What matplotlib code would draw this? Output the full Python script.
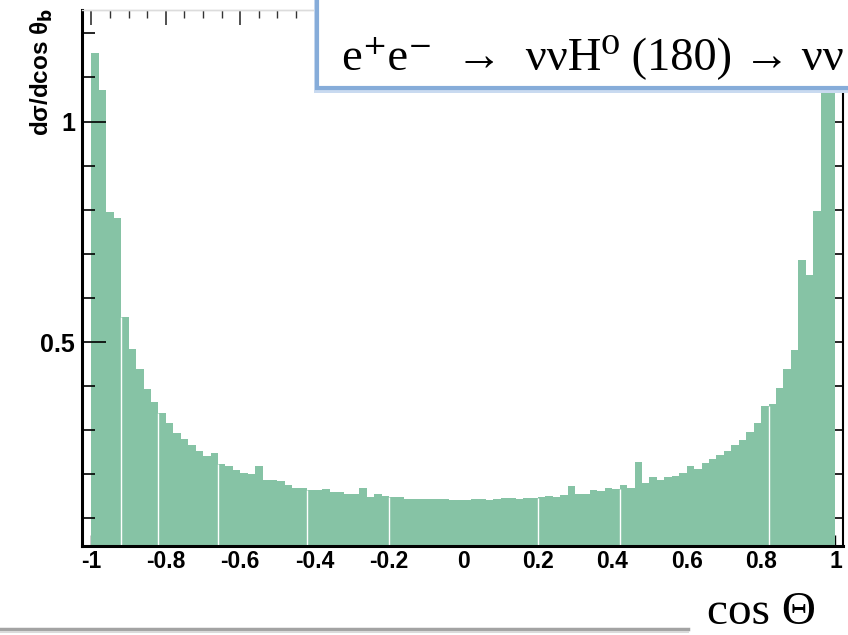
import numpy as np
import matplotlib
matplotlib.use("Agg")
import matplotlib.pyplot as plt
from matplotlib.patches import Rectangle
from matplotlib.lines import Line2D
from matplotlib.ticker import MultipleLocator
from matplotlib import font_manager

# ---- data ----
bin_lo, bin_hi, n_bins = -1.0, 1.0, 100
heights = [
    1.156, 1.072, 0.795, 0.781, 0.556, 0.484, 0.439, 0.393, 0.365, 0.339,
    0.316, 0.293, 0.280, 0.267, 0.252, 0.242, 0.248, 0.223, 0.220, 0.209,
    0.203, 0.200, 0.219, 0.187, 0.187, 0.184, 0.175, 0.170, 0.170, 0.165,
    0.165, 0.167, 0.159, 0.159, 0.156, 0.156, 0.170, 0.148, 0.155, 0.150,
    0.148, 0.148, 0.144, 0.144, 0.144, 0.144, 0.144, 0.144, 0.141, 0.141,
    0.141, 0.144, 0.144, 0.141, 0.144, 0.147, 0.147, 0.144, 0.147, 0.147,
    0.149, 0.151, 0.148, 0.153, 0.174, 0.156, 0.156, 0.165, 0.163, 0.170,
    0.167, 0.175, 0.170, 0.229, 0.180, 0.195, 0.188, 0.194, 0.197, 0.203,
    0.219, 0.212, 0.225, 0.234, 0.243, 0.254, 0.266, 0.279, 0.296, 0.316,
    0.354, 0.360, 0.397, 0.440, 0.481, 0.685, 0.652, 0.798, 1.120, 1.200,
]
x_ticks = [-1, -0.8, -0.6, -0.4, -0.2, 0, 0.2, 0.4, 0.6, 0.8, 1]
x_tick_labels = ["-1", "-0.8", "-0.6", "-0.4", "-0.2", "0", "0.2", "0.4", "0.6", "0.8", "1"]
y_ticks = [0.5, 1.0]
y_tick_labels = ["0.5", "1"]
y_label = "dσ/dcos θ$_\\mathbf{b}$"
x_label = "cos Θ"
title = "e\u207ae\u207b  →  ννH\u2070 (180) → νν"
# styling only: bar edges that show a thin white seam in the reference
seam_edges = [4, 9, 17, 29, 40, 60, 71, 91]

W, H = 848, 635
fig = plt.figure(figsize=(W / 100, H / 100), dpi=100)
fig.patch.set_facecolor("white")

def fx(px):
    return px / W

def fy(py):
    return 1 - py / H

def have(name):
    try:
        font_manager.findfont(name, fallback_to_default=False)
        return True
    except Exception:
        return False

narrow = "Liberation Sans Narrow" if have("Liberation Sans Narrow") else None
sans = ([narrow] if narrow else []) + ["Liberation Sans", "DejaVu Sans"]
lbl_size = 18 if narrow else 16.5

left, right, top, bottom = 82, 842.7, 10, 546
ax = fig.add_axes([fx(left), fy(bottom), fx(right - left), (bottom - top) / H])

edges = np.linspace(bin_lo, bin_hi, n_bins + 1)
bar_color = "#86c3a5"
ax.bar(edges[:-1], heights, width=np.diff(edges), align="edge",
       color=bar_color, linewidth=0, zorder=1)
for i in seam_edges:
    ax.vlines(edges[i], 0, min(heights[i - 1], heights[i]),
              color="white", linewidth=1.0, zorder=1.2)

ax.set_xlim(-1.0255, 1.0194)
ax.set_ylim(0.0376, 1.253)

ax.set_xticks(x_ticks)
ax.set_xticklabels(x_tick_labels, fontfamily=sans, fontweight="bold", fontsize=lbl_size)
ax.set_yticks(y_ticks)
ax.set_yticklabels(y_tick_labels, fontfamily=["Liberation Sans", "DejaVu Sans"],
                   fontweight="bold", fontsize=18)
ax.yaxis.set_minor_locator(MultipleLocator(0.1))
ax.tick_params(axis="x", which="both", direction="in", length=8, width=1,
               pad=3, top=False, bottom=True)
ax.tick_params(axis="y", which="major", direction="in", length=17, width=1.2,
               pad=5, left=True, right=False)
ax.tick_params(axis="y", which="minor", direction="in", length=9, width=1.2,
               left=True, right=False)
ax.xaxis.set_zorder(0.5)

ax.spines["left"].set_linewidth(2.2)
ax.spines["bottom"].set_linewidth(2.2)
ax.spines["right"].set_visible(False)
ax.spines["top"].set_color("#dcdcdc")
ax.spines["top"].set_linewidth(1)

# mirrored ticks (right / top) as drawn in the reference
sec_y = ax.secondary_yaxis("right")
sec_y.set_yticks(np.arange(0.1, 1.21, 0.1))
sec_y.tick_params(direction="in", length=8, width=1.2, labelright=False)
sec_y.spines["right"].set_linewidth(1.5)

sec_x = ax.secondary_xaxis("top")
sec_x.set_xticks(x_ticks)
sec_x.xaxis.set_minor_locator(MultipleLocator(0.05))
sec_x.tick_params(which="major", direction="in", length=11, width=1.2,
                  labeltop=False, colors="#333333")
sec_x.tick_params(which="minor", direction="in", length=6, width=1.0,
                  colors="#333333")
sec_x.spines["top"].set_color("#dcdcdc")
sec_x.spines["top"].set_linewidth(1)

# y axis title
fig.text(fx(42), fy(8), y_label, rotation=90, ha="center", va="top",
         fontfamily=["Liberation Sans", "DejaVu Sans"], fontweight="bold",
         fontsize=17.5)

# title box (partly outside the picture, as in the reference)
box_l, box_b = 317, 88
shadow = Rectangle((fx(box_l - 3), fy(box_b + 5)), 1.2, 1.2,
                   transform=fig.transFigure, facecolor="#c9daf0",
                   edgecolor="none", zorder=9)
fig.add_artist(shadow)
box = Rectangle((fx(box_l), fy(box_b)), 1.2, 1.2, transform=fig.transFigure,
                facecolor="white", edgecolor="#86acd9", linewidth=3, zorder=10)
fig.add_artist(box)
fig.text(fx(342), fy(69), title, ha="left", va="baseline",
         fontfamily=["Liberation Serif", "DejaVu Serif"], fontsize=33.5,
         color="black", zorder=11)

# x axis title
fig.text(fx(707), fy(634), x_label, ha="left", va="bottom",
         fontfamily=["Liberation Serif", "DejaVu Serif"], fontsize=34,
         color="black")

# slide divider line at the bottom
fig.add_artist(Line2D([0, fx(688)], [fy(629), fy(629)], transform=fig.transFigure,
                      color="#a3a3a3", linewidth=2.5))
fig.add_artist(Line2D([0, fx(688)], [fy(632), fy(632)], transform=fig.transFigure,
                      color="#dadada", linewidth=1.5))

fig.savefig("out.png", dpi=100)
